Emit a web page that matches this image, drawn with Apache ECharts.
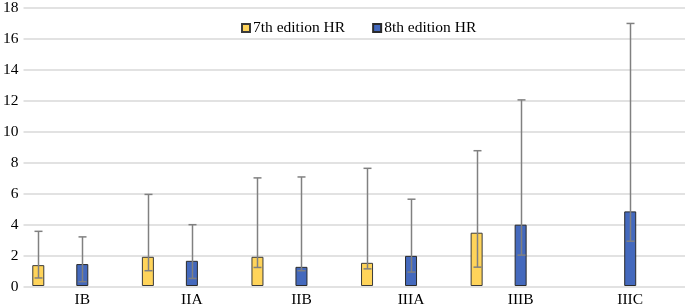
<!DOCTYPE html>
<html>
<head>
<meta charset="utf-8">
<script src="https://cdn.jsdelivr.net/npm/echarts@6/dist/echarts.min.js"></script>
<style>
  html, body { margin: 0; padding: 0; background: #fff; }
  #main { width: 685px; height: 308px; }
</style>
</head>
<body>
<div id="main"></div>
<script>
const stages = ['IB', 'IIA', 'IIB', 'IIIA', 'IIIB', 'IIIC'];
const yTicks = [0, 2, 4, 6, 8, 10, 12, 14, 16, 18];

// 7th edition hazard ratios with CI
const hr7 = [1.35, 1.89, 1.89, 1.50, 3.45, null];
const hr7Low = [0.52, 0.99, 1.20, 1.11, 1.22, null];
const hr7High = [3.54, 5.93, 7.00, 7.62, 8.76, null];

// 8th edition hazard ratios with CI
const hr8 = [1.42, 1.63, 1.24, 1.95, 3.97, 4.83];
const hr8Low = [0.28, 0.49, 0.99, 0.90, 2.00, 2.90];
const hr8High = [3.18, 3.97, 7.06, 5.62, 12.05, 17.00];

const barW = 12;
const barStep = 44; // centre-to-centre distance of bars in a group
const font = '"Liberation Serif", "Times New Roman", serif';

function errorSeries(name, low, high, offset) {
    const data = [];
    stages.forEach(function (s, i) {
        if (low[i] != null) data.push([i, low[i], high[i]]);
    });
    return {
        type: 'custom',
        name: name + ' CI',
        xAxisIndex: 1,
        yAxisIndex: 1,
        z: 5,
        silent: true,
        encode: { x: 0, y: [1, 2] },
        data: data,
        renderItem: function (params, api) {
            const lo = api.coord([api.value(0), api.value(1)]);
            const hi = api.coord([api.value(0), api.value(2)]);
            const x = Math.round(lo[0] + offset) + 0.5;
            const cap = 4;
            const style = { stroke: '#808080', lineWidth: 1.5 };
            return {
                type: 'group',
                children: [
                    { type: 'line', shape: { x1: x, y1: lo[1], x2: x, y2: hi[1] }, style: style },
                    { type: 'line', shape: { x1: x - cap, y1: hi[1], x2: x + cap, y2: hi[1] }, style: style },
                    { type: 'line', shape: { x1: x - cap, y1: lo[1], x2: x + cap, y2: lo[1] }, style: style }
                ]
            };
        }
    };
}

const chart = echarts.init(document.getElementById('main'));
chart.setOption({
    animation: false,
    backgroundColor: '#fff',
    textStyle: { fontFamily: font },
    legend: {
        data: ['7th edition HR', '8th edition HR'],
        left: 236,
        top: 15,
        icon: 'rect',
        itemWidth: 8,
        itemHeight: 8,
        itemGap: 27,
        textStyle: { fontFamily: font, fontSize: 15.5, color: '#000', padding: [0, 0, 0, -2] }
    },
    grid: [
        { left: 21, right: 0, top: 8, bottom: 21 },
        { left: 27.5, right: -8.5, top: 8, bottom: 21 }
    ],
    xAxis: [
        { type: 'value', gridIndex: 0, show: false, min: 0, max: 1 },
        {
            type: 'category',
            gridIndex: 1,
            data: stages,
            axisLine: { show: false },
            axisTick: { show: false },
            axisLabel: { fontFamily: font, fontSize: 15.5, color: '#000', margin: 6 }
        }
    ],
    yAxis: [
        {
            type: 'value',
            gridIndex: 0,
            min: 0,
            max: 18,
            interval: 2,
            axisLine: { show: false },
            axisTick: { show: false },
            axisLabel: { fontFamily: font, fontSize: 15.5, color: '#000', margin: 5 },
            splitLine: { lineStyle: { color: '#d9d9d9', width: 1.5 } }
        },
        { type: 'value', gridIndex: 1, min: 0, max: 18, interval: 2, show: false, splitLine: { show: false } }
    ],
    series: [
        {
            name: '7th edition HR',
            type: 'bar',
            xAxisIndex: 1,
            yAxisIndex: 1,
            data: hr7,
            barWidth: barW,
            barGap: ((barStep - barW) / barW * 100) + '%',
            itemStyle: { color: '#FFD45A', borderColor: '#3a3a3a', borderWidth: 1 }
        },
        {
            name: '8th edition HR',
            type: 'bar',
            xAxisIndex: 1,
            yAxisIndex: 1,
            data: hr8,
            barWidth: barW,
            itemStyle: { color: '#4469BD', borderColor: '#2a2a2a', borderWidth: 1 }
        },
        {
            name: 'spacer',
            type: 'bar',
            xAxisIndex: 1,
            yAxisIndex: 1,
            data: stages.map(function () { return null; }),
            barWidth: barW
        },
        errorSeries('7th', hr7Low, hr7High, -barStep),
        errorSeries('8th', hr8Low, hr8High, 0)
    ]
});
</script>
</body>
</html>
